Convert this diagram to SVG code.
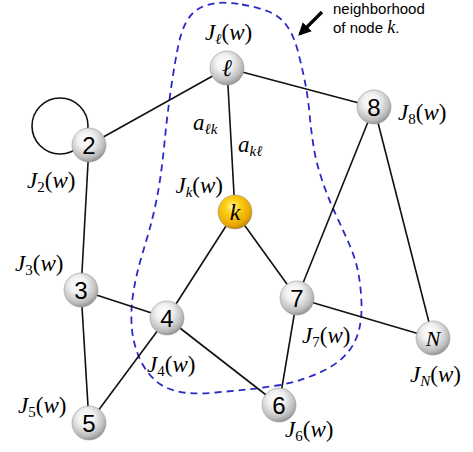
<svg xmlns="http://www.w3.org/2000/svg" width="473" height="452" viewBox="0 0 473 452">
<style>
.edge{stroke:#111;stroke-width:1.6;fill:none}
.node{stroke:#9a9a9a;stroke-width:0.6}
.num{font-family:"Liberation Sans","DejaVu Sans",sans-serif;font-size:24px;fill:#000;text-anchor:middle}
.mi{font-family:"Liberation Serif","DejaVu Serif",serif;font-style:italic;fill:#000}
.lab{font-family:"Liberation Serif","DejaVu Serif",serif;font-size:23px;fill:#000}
.it{font-style:italic}
.sub{font-size:15px}
.note{font-family:"Liberation Sans","DejaVu Sans",sans-serif;font-size:15px;fill:#000}
</style>
<defs>
<radialGradient id="silver" cx="0.42" cy="0.35" r="0.68">
<stop offset="0" stop-color="#ffffff"/>
<stop offset="0.35" stop-color="#f2f2f2"/>
<stop offset="0.78" stop-color="#bdbdbd"/>
<stop offset="1" stop-color="#8c8c8c"/>
</radialGradient>
<radialGradient id="gold" cx="0.42" cy="0.35" r="0.68">
<stop offset="0" stop-color="#fff5a8"/>
<stop offset="0.3" stop-color="#ffd21a"/>
<stop offset="0.8" stop-color="#e7a600"/>
<stop offset="1" stop-color="#b57a00"/>
</radialGradient>
<marker id="ah" viewBox="0 0 10 10" refX="8" refY="5" markerWidth="4" markerHeight="4" orient="auto">
<path d="M0,0 L10,5 L0,10 z" fill="#000"/>
</marker>
</defs>
<g id="neighborhood">
<path d="M242,4.5 Q257,7 268.5,11.5 Q280,16 287,26 Q294,36 298,51.5 Q302,67 305,82 Q308,97 309.5,113.5 Q311,130 313.5,146 Q316,162 322,180 Q328,198 336,215 Q344,232 350,246 Q356,260 358.5,274 Q361,288 361.5,303 Q362,318 359,330 Q356,342 348.5,351.5 Q341,361 329.5,367.5 Q318,374 305,378.5 Q292,383 277,385.5 Q262,388 247,389.5 Q232,391 216,392.5 Q200,394 188,393 Q176,392 166,387.5 Q156,383 148,372.5 Q140,362 136,349 Q132,336 131.5,323 Q131,310 132.5,298.5 Q134,287 136.5,276 Q139,265 142.5,253.5 Q146,242 149.5,229.5 Q153,217 156,202.5 Q159,188 161,173 Q163,158 164.5,142.5 Q166,127 168,111 Q170,95 172.5,78.5 Q175,62 178,47 Q181,32 186,22.5 Q191,13 199,8.5 Q207,4 217,3 Q227,2 242,4.5 Z" fill="none" stroke="#2a2ac4" stroke-width="1.8" stroke-dasharray="7 5"/>
<line x1="322" y1="12" x2="300" y2="34" stroke="#000" stroke-width="3.2" marker-end="url(#ah)"/>
<text class="note" x="333" y="14">neighborhood</text>
<text class="note" x="333" y="33">of node <tspan class="mi" font-size="18">k</tspan>.</text>
</g>
<g id="connectors">
<circle class="edge" cx="60" cy="126" r="28"/>
<line class="edge" x1="227" y1="68" x2="89" y2="145"/>
<line class="edge" x1="227" y1="68" x2="374" y2="107"/>
<line class="edge" x1="227" y1="68" x2="235" y2="212"/>
<line class="edge" x1="89" y1="145" x2="81" y2="290"/>
<line class="edge" x1="81" y1="290" x2="167" y2="318"/>
<line class="edge" x1="81" y1="290" x2="89" y2="423"/>
<line class="edge" x1="167" y1="318" x2="89" y2="423"/>
<line class="edge" x1="167" y1="318" x2="235" y2="212"/>
<line class="edge" x1="167" y1="318" x2="279" y2="405"/>
<line class="edge" x1="235" y1="212" x2="297" y2="298"/>
<line class="edge" x1="297" y1="298" x2="374" y2="107"/>
<line class="edge" x1="297" y1="298" x2="279" y2="405"/>
<line class="edge" x1="297" y1="298" x2="433" y2="338"/>
<line class="edge" x1="374" y1="107" x2="433" y2="338"/>
</g>
<g id="node-l"><circle class="node" cx="227" cy="68" r="17" fill="url(#silver)"/><text class="mi" x="227" y="76" font-size="24" text-anchor="middle">ℓ</text></g>
<g id="node-8"><circle class="node" cx="374" cy="107" r="17" fill="url(#silver)"/><text class="num" x="374" y="116">8</text></g>
<g id="node-2"><circle class="node" cx="89" cy="145" r="17" fill="url(#silver)"/><text class="num" x="89" y="154">2</text></g>
<g id="node-k"><circle class="node" cx="235" cy="212" r="17" fill="url(#gold)" stroke="#b07a00"/><text class="mi" x="235" y="220" font-size="24" text-anchor="middle">k</text></g>
<g id="node-3"><circle class="node" cx="81" cy="290" r="17" fill="url(#silver)"/><text class="num" x="81" y="299">3</text></g>
<g id="node-4"><circle class="node" cx="167" cy="318" r="17" fill="url(#silver)"/><text class="num" x="167" y="327">4</text></g>
<g id="node-7"><circle class="node" cx="297" cy="298" r="17" fill="url(#silver)"/><text class="num" x="297" y="307">7</text></g>
<g id="node-N"><circle class="node" cx="433" cy="338" r="17" fill="url(#silver)"/><text class="mi" x="433" y="346" font-size="22" text-anchor="middle">N</text></g>
<g id="node-5"><circle class="node" cx="89" cy="423" r="17" fill="url(#silver)"/><text class="num" x="89" y="432">5</text></g>
<g id="node-6"><circle class="node" cx="279" cy="405" r="17" fill="url(#silver)"/><text class="num" x="279" y="414">6</text></g>
<g id="labels">
<text class="lab" x="205" y="40"><tspan class="it">J</tspan><tspan class="sub it" dy="4">ℓ</tspan><tspan dy="-4">(</tspan><tspan class="it">w</tspan>)</text>
<text class="lab" x="398" y="120"><tspan class="it">J</tspan><tspan class="sub" dy="4">8</tspan><tspan dy="-4">(</tspan><tspan class="it">w</tspan>)</text>
<text class="lab" x="27" y="188"><tspan class="it">J</tspan><tspan class="sub" dy="4">2</tspan><tspan dy="-4">(</tspan><tspan class="it">w</tspan>)</text>
<text class="lab" x="223" y="193" text-anchor="end"><tspan class="it">J</tspan><tspan class="sub it" dy="4">k</tspan><tspan dy="-4">(</tspan><tspan class="it">w</tspan>)</text>
<text class="lab" x="15" y="271"><tspan class="it">J</tspan><tspan class="sub" dy="4">3</tspan><tspan dy="-4">(</tspan><tspan class="it">w</tspan>)</text>
<text class="lab" x="147" y="372"><tspan class="it">J</tspan><tspan class="sub" dy="4">4</tspan><tspan dy="-4">(</tspan><tspan class="it">w</tspan>)</text>
<text class="lab" x="18" y="413"><tspan class="it">J</tspan><tspan class="sub" dy="4">5</tspan><tspan dy="-4">(</tspan><tspan class="it">w</tspan>)</text>
<text class="lab" x="302" y="343"><tspan class="it">J</tspan><tspan class="sub" dy="4">7</tspan><tspan dy="-4">(</tspan><tspan class="it">w</tspan>)</text>
<text class="lab" x="410" y="382"><tspan class="it">J</tspan><tspan class="sub it" dy="4">N</tspan><tspan dy="-4">(</tspan><tspan class="it">w</tspan>)</text>
<text class="lab" x="285" y="437"><tspan class="it">J</tspan><tspan class="sub" dy="4">6</tspan><tspan dy="-4">(</tspan><tspan class="it">w</tspan>)</text>
<text class="lab" x="193" y="130"><tspan class="it">a</tspan><tspan class="sub it" dy="4">ℓk</tspan></text>
<text class="lab" x="238" y="152"><tspan class="it">a</tspan><tspan class="sub it" dy="4">kℓ</tspan></text>
</g>
</svg>
